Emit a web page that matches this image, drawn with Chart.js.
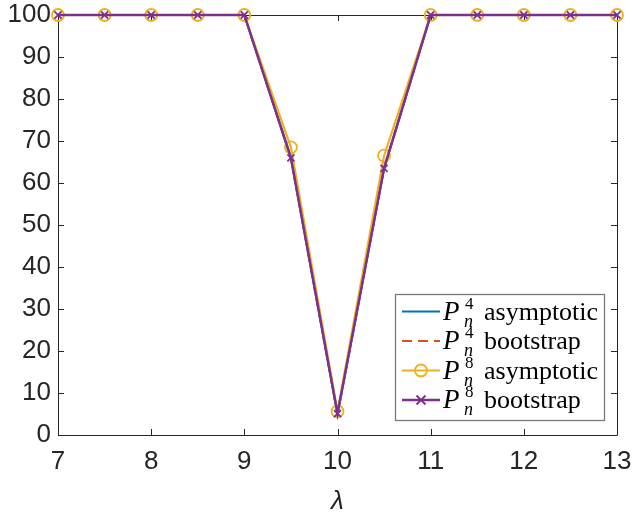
<!DOCTYPE html>
<html>
<head>
<meta charset="utf-8">
<script src="https://cdn.jsdelivr.net/npm/chart.js@4.4.1/dist/chart.umd.min.js"></script>
<style>
    html, body { margin: 0; padding: 0; background: #fff; }
    #wrap { width: 633px; height: 517px; }
</style>
</head>
<body>
<div id="wrap"><canvas id="powerChart" width="633" height="517"></canvas></div>
<script>
// Data
const lambdas = [7, 7.5, 8, 8.5, 9, 9.5, 10, 10.5, 11, 11.5, 12, 12.5, 13];
const p4Asymptotic = [100, 100, 100, 100, 100, 66, 5, 63.5, 100, 100, 100, 100, 100];
const p4Bootstrap  = [100, 100, 100, 100, 100, 66, 5, 63.5, 100, 100, 100, 100, 100];
const p8Asymptotic = [100, 100, 100, 100, 100, 68.5, 5.6, 66.5, 100, 100, 100, 100, 100];
const p8Bootstrap  = [100, 100, 100, 100, 100, 66, 5.1, 63.5, 100, 100, 100, 100, 100];
const xTickValues = [7, 8, 9, 10, 11, 12, 13];
const yTickValues = [0, 10, 20, 30, 40, 50, 60, 70, 80, 90, 100];

const axisColor = '#262626';
const tickFont = { family: "'Liberation Sans', Arial, sans-serif", size: 26 };

const toPoints = (ys) => ys.map((y, i) => ({ x: lambdas[i], y: y }));

// Draw box and inward ticks like matlab
const matlabAxes = {
    id: 'matlabAxes',
    beforeDatasetsDraw(chart) {
        const { ctx, chartArea: a, scales } = chart;
        const len = 6;
        ctx.save();
        ctx.strokeStyle = axisColor;
        ctx.lineWidth = 1;
        ctx.beginPath();
        ctx.rect(a.left + 0.5, a.top + 0.5, a.right - a.left, a.bottom - a.top);
        xTickValues.forEach(v => {
            const px = Math.round(scales.x.getPixelForValue(v)) + 0.5;
            ctx.moveTo(px, a.bottom); ctx.lineTo(px, a.bottom - len);
            ctx.moveTo(px, a.top); ctx.lineTo(px, a.top + len);
        });
        yTickValues.forEach(v => {
            const py = Math.round(scales.y.getPixelForValue(v)) + 0.5;
            ctx.moveTo(a.left, py); ctx.lineTo(a.left + len, py);
            ctx.moveTo(a.right, py); ctx.lineTo(a.right - len, py);
        });
        ctx.stroke();
        ctx.restore();
    }
};

function drawMarker(ctx, type, x, y, color) {
    ctx.save();
    ctx.strokeStyle = color;
    ctx.lineWidth = 1.8;
    ctx.setLineDash([]);
    ctx.beginPath();
    if (type === 'circle') {
        ctx.arc(x, y, 6, 0, Math.PI * 2);
    } else if (type === 'crossRot') {
        const r = 4.5;
        ctx.moveTo(x - r, y - r); ctx.lineTo(x + r, y + r);
        ctx.moveTo(x - r, y + r); ctx.lineTo(x + r, y - r);
    }
    ctx.stroke();
    ctx.restore();
}

// Legend with P_n^k style labels
const texLegend = {
    id: 'texLegend',
    afterDraw(chart) {
        const ctx = chart.ctx;
        const box = { left: 395, top: 294, right: 604, bottom: 420 };
        ctx.save();
        ctx.fillStyle = '#fff';
        ctx.fillRect(box.left, box.top, box.right - box.left, box.bottom - box.top);
        ctx.strokeStyle = '#7a7a7a';
        ctx.lineWidth = 1.3;
        ctx.strokeRect(box.left + 0.5, box.top + 0.5, box.right - box.left, box.bottom - box.top);

        const rowY0 = 311.5, rowStep = 29.5;
        const serif = "'Liberation Serif', 'Times New Roman', serif";
        chart.data.datasets.forEach((ds, i) => {
            const y = rowY0 + i * rowStep;
            ctx.strokeStyle = ds.borderColor;
            ctx.lineWidth = ds.borderWidth;
            ctx.setLineDash(ds.borderDash || []);
            ctx.beginPath();
            ctx.moveTo(402, y); ctx.lineTo(440, y);
            ctx.stroke();
            ctx.setLineDash([]);
            if (ds.legendMarker) drawMarker(ctx, ds.legendMarker, 421, y, ds.borderColor);

            ctx.fillStyle = '#000';
            ctx.textBaseline = 'alphabetic';
            ctx.textAlign = 'left';
            ctx.font = 'italic 27px ' + serif;
            ctx.fillText('P', 443, y + 8);
            ctx.font = '17px ' + serif;
            ctx.fillText(ds.supText, 465, y - 3);
            ctx.font = 'italic 18px ' + serif;
            ctx.fillText('n', 464, y + 15);
            ctx.font = '26px ' + serif;
            ctx.fillText(ds.wordText, 484, y + 8);
        });
        ctx.restore();
    }
};

const ctx = document.getElementById('powerChart').getContext('2d');
new Chart(ctx, {
    type: 'line',
    data: {
        datasets: [
            {
                label: 'P_n^4 asymptotic', supText: '4', wordText: 'asymptotic',
                data: toPoints(p4Asymptotic),
                borderColor: '#0072BD', borderWidth: 2.2,
                pointRadius: 0, order: 3, clip: false
            },
            {
                label: 'P_n^4 bootstrap', supText: '4', wordText: 'bootstrap',
                data: toPoints(p4Bootstrap),
                borderColor: '#D95319', borderWidth: 2.2, borderDash: [10, 6],
                pointRadius: 0, order: 2, clip: false
            },
            {
                label: 'P_n^8 asymptotic', supText: '8', wordText: 'asymptotic',
                data: toPoints(p8Asymptotic),
                borderColor: '#EDB120', borderWidth: 2.2,
                pointStyle: 'circle', pointRadius: 6, pointBorderWidth: 1.8,
                pointBackgroundColor: 'rgba(0,0,0,0)', pointBorderColor: '#EDB120',
                legendMarker: 'circle', order: 1, clip: false
            },
            {
                label: 'P_n^8 bootstrap', supText: '8', wordText: 'bootstrap',
                data: toPoints(p8Bootstrap),
                borderColor: '#7E2F8E', borderWidth: 2.4,
                pointStyle: 'crossRot', pointRadius: 5, pointBorderWidth: 1.8,
                pointBorderColor: '#7E2F8E',
                legendMarker: 'crossRot', order: 0, clip: false
            }
        ]
    },
    options: {
        responsive: false,
        animation: false,
        devicePixelRatio: 1,
        layout: { padding: { top: 15, right: 16, left: 0, bottom: 0 } },
        plugins: {
            legend: { display: false },
            tooltip: { enabled: false }
        },
        elements: { line: { tension: 0 } },
        scales: {
            x: {
                type: 'linear',
                min: 7, max: 13,
                afterBuildTicks: (scale) => { scale.ticks = xTickValues.map(v => ({ value: v })); },
                afterFit: (scale) => {
                    scale.height = 82;
                    scale.paddingLeft = 0; scale.paddingRight = 0;
                },
                grid: { display: false, drawTicks: false },
                border: { display: false },
                ticks: { color: axisColor, font: tickFont, padding: 11, maxRotation: 0 },
                title: {
                    display: true, text: 'λ', color: axisColor,
                    font: { family: "'Liberation Sans', Arial, sans-serif", size: 26, style: 'italic' },
                    padding: { top: 0, bottom: 0 }
                }
            },
            y: {
                min: 0, max: 100,
                afterBuildTicks: (scale) => { scale.ticks = yTickValues.map(v => ({ value: v })); },
                afterFit: (scale) => {
                    scale.width = 58;
                    scale.paddingTop = 0; scale.paddingBottom = 0;
                },
                grid: { display: false, drawTicks: false },
                border: { display: false },
                ticks: { color: axisColor, font: tickFont, padding: 7 }
            }
        }
    },
    plugins: [matlabAxes, texLegend]
});
</script>
</body>
</html>
